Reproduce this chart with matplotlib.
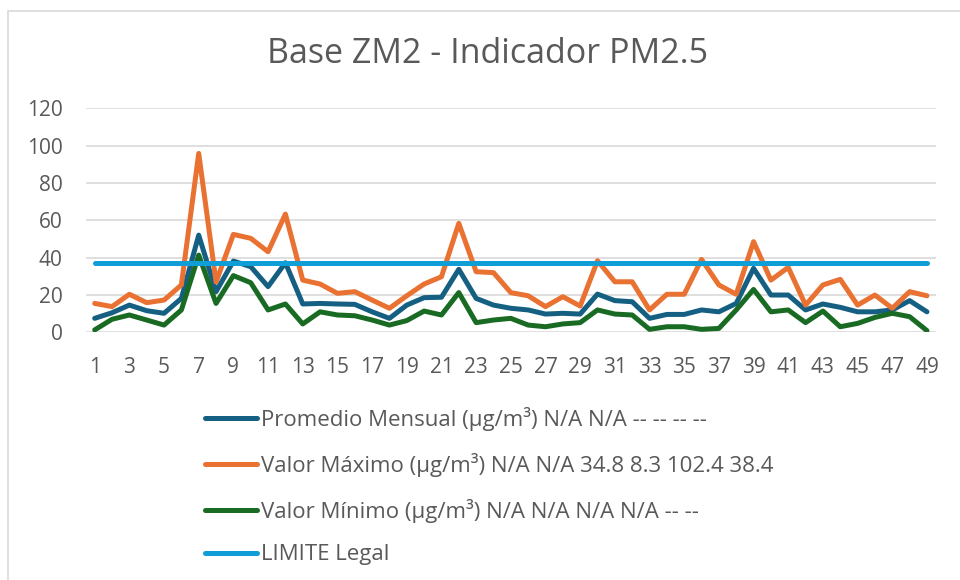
import matplotlib.pyplot as plt
from matplotlib.patches import Rectangle

plt.rcParams['font.family'] = ['Open Sans', 'DejaVu Sans']

# categories (row numbers on the x axis)
puntos = list(range(1, 50))

promedio = [7.5, 10.5, 14.6, 11.6, 10.2, 18.2, 52.1, 21.8, 38.2, 35.2,
            24.5, 37.3, 15.2, 15.5, 15.2, 15.0, 11.0, 7.5, 14.6, 18.6,
            18.8, 33.8, 18.2, 14.6, 12.9, 12.0, 9.8, 10.2, 9.8, 20.5,
            17.0, 16.4, 7.5, 9.6, 9.6, 12.0, 11.0, 15.5, 34.3, 20.0,
            20.0, 12.0, 15.2, 13.4, 11.0, 11.0, 12.0, 17.0, 11.0]

maximo = [15.5, 13.8, 20.4, 15.9, 17.3, 25.4, 95.9, 27.0, 52.5, 50.4,
          43.2, 63.4, 28.0, 25.9, 20.9, 21.8, 17.3, 12.9, 19.6, 25.9,
          29.8, 58.4, 32.5, 32.0, 21.3, 19.6, 13.8, 19.1, 14.1, 38.4,
          27.1, 27.1, 12.0, 20.4, 20.4, 39.1, 25.4, 20.4, 48.6, 28.0,
          34.8, 14.6, 25.4, 28.4, 14.6, 20.0, 12.9, 21.8, 19.6]

minimo = [1.3, 7.0, 9.3, 6.6, 3.9, 12.0, 41.4, 15.5, 30.4, 26.6,
          12.0, 15.2, 4.5, 11.0, 9.3, 8.9, 6.6, 3.9, 6.3, 11.4,
          9.3, 21.3, 5.2, 6.6, 7.5, 3.9, 3.0, 4.5, 5.2, 12.0,
          9.8, 9.3, 1.6, 3.0, 3.0, 1.6, 2.1, 12.0, 23.0, 11.0,
          12.0, 5.2, 11.4, 3.0, 4.8, 8.0, 10.2, 8.4, 0.9]

limite_legal = 37
limite = [limite_legal] * len(puntos)

etiquetas = [
    'Promedio Mensual (µg/m³) N/A N/A -- -- -- --',
    'Valor Máximo (µg/m³) N/A N/A 34.8 8.3 102.4 38.4',
    'Valor Mínimo (µg/m³) N/A N/A N/A N/A -- --',
    'LIMITE Legal',
]
colores = ['#156082', '#E97132', '#196B24', '#0F9ED5']

gris = '#595959'

fig = plt.figure(figsize=(9.6, 5.8), dpi=100)
ax = fig.add_axes([0.0896, 0.427, 0.885, 0.386])

for serie, etiqueta, color in zip([promedio, maximo, minimo, limite], etiquetas, colores):
    ax.plot(puntos, serie, color=color, linewidth=3.6, label=etiqueta,
            solid_joinstyle='round', solid_capstyle='round')

ax.set_xlim(0.5, 49.5)
ax.set_ylim(0, 120)
ax.set_yticks(range(0, 121, 20))
ax.set_xticks(range(1, 50, 2))
ax.tick_params(axis='both', length=0, labelsize=15, labelcolor=gris)
ax.tick_params(axis='y', pad=17)
ax.tick_params(axis='x', pad=18)
ax.grid(axis='y', color='#D9D9D9', linewidth=1.2)
ax.set_axisbelow(True)
for s in ax.spines.values():
    s.set_visible(False)

fig.suptitle('Base ZM2 - Indicador PM2.5', x=0.508, y=1 - 54 / 580, va='center',
             fontsize=24.5, color=gris)

ax.legend(loc='upper left', bbox_to_anchor=(205 / 960, 1 - 407 / 580),
          bbox_transform=fig.transFigure, frameon=False, fontsize=16,
          labelcolor=gris, handlelength=2.35, handletextpad=0.15,
          labelspacing=0.98, borderpad=0, borderaxespad=0)

# chart area border (runs off the right and bottom edges)
fig.patches.append(Rectangle((7.5 / 960, -0.1), 1.2, 1.1 - 11 / 580,
                             transform=fig.transFigure, fill=False,
                             edgecolor='#D9D9D9', linewidth=1.2))

fig.savefig('out.png', dpi=100)
